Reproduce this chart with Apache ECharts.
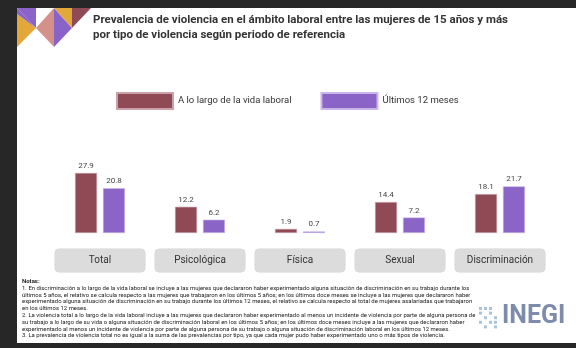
<!DOCTYPE html>
<html><head><meta charset="utf-8">
<script src="https://cdn.jsdelivr.net/npm/echarts@6/dist/echarts.min.js"></script>
<style>html,body{margin:0;padding:0;background:#fff}#c{width:576px;height:348px}</style>
</head><body><div id="c"></div>
<script>
const categories = ['Total', 'Psicológica', 'Física', 'Sexual', 'Discriminación'];
const seriesNames = ['A lo largo de la vida laboral', 'Últimos 12 meses'];
const vidaLaboral = [27.9, 12.2, 1.9, 14.4, 18.1];
const ultimos12 = [20.8, 6.2, 0.7, 7.2, 21.7];
const titleLines = ['Prevalencia de violencia en el ámbito laboral entre las mujeres de 15 años y más',
  'por tipo de violencia según periodo de referencia'];
const notesLines = [
 '1. En discriminación a lo largo de la vida laboral se incluye a las mujeres que declararon haber experimentado alguna situación de discriminación en su trabajo durante los',
 'últimos 5 años, el relativo se calcula respecto a las mujeres que trabajaron en los últimos 5 años; en los últimos doce meses se incluye a las mujeres que declararon haber',
 'experimentado alguna situación de discriminación en su trabajo durante los últimos 12 meses, el relativo se calcula respecto al total de mujeres asalariadas que trabajaron',
 'en los últimos 12 meses.',
 '2. La violencia total a lo largo de la vida laboral incluye a las mujeres que declararon haber experimentado al menos un incidente de violencia por parte de alguna persona de',
 'su trabajo a lo largo de su vida o alguna situación de discriminación laboral en los últimos 5 años; en los últimos doce meses incluye a las mujeres que declararon haber',
 'experimentado al menos un incidente de violencia por parte de alguna persona de su trabajo o alguna situación de discriminación laboral en los últimos 12 meses.',
 '3. La prevalencia de violencia total no es igual a la suma de las prevalencias por tipo, ya que cada mujer pudo haber experimentado uno o más tipos de violencia.'
];

const MAROON = '#8f4a55', PURPLE = '#8a64c6';
const chart = echarts.init(document.getElementById('c'), null, {renderer: 'canvas'});

const dots = [];
const dotPattern = [[0,0],[1,0],[2,0],[0,1],[2,1],[1,2],[3,2],[2,3],[3,3],[0,3],[1,4],[3,4]];
dotPattern.forEach(p => dots.push({type:'rect', shape:{x:479 + p[0]*5, y:307 + p[1]*4.6, width:3, height:3}, style:{fill:'#a9c3dc'}}));

const lbl = {show:true, position:'top', distance:3, fontSize:8, color:'#444', fontFamily:'Roboto'};

chart.setOption({
  animation: false,
  backgroundColor: '#fff',
  textStyle: {fontFamily: 'Roboto'},
  legend: {
    left: 116, top: 92, padding: 0, itemWidth: 56, itemHeight: 16, itemGap: 29,
    icon: 'rect',
    textStyle: {fontSize: 9.5, color: '#333', fontFamily: 'Roboto'},
    data: seriesNames
  },
  grid: {left: 50, right: 26, top: 168.5, height: 64.5, containLabel: false},
  xAxis: {
    type: 'category', data: categories,
    axisLine: {show: false}, axisTick: {show: false},
    axisLabel: {
      margin: 16, fontSize: 10, color: '#333', fontFamily: 'Roboto',
      backgroundColor: '#dcdcdc', borderRadius: 4, borderColor: '#d2d2d2', borderWidth: 0.5,
      width: 90, height: 23, lineHeight: 23, align: 'center'
    }
  },
  yAxis: {type: 'value', min: 0, max: 30, show: false, splitLine: {show: false}},
  series: [
    {name: seriesNames[0], type: 'bar', data: vidaLaboral, barWidth: 22, barGap: '27%',
     itemStyle: {color: MAROON, borderColor: '#caa3aa', borderWidth: 0.6}, label: lbl},
    {name: seriesNames[1], type: 'bar', data: ultimos12, barWidth: 22,
     itemStyle: {color: PURPLE, borderColor: '#c9b6ea', borderWidth: 0.6}, label: lbl}
  ],
  graphic: [
    {type:'rect', shape:{x:0, y:0, width:576, height:8}, style:{fill:'#272727'}},
    {type:'rect', shape:{x:0, y:0, width:17, height:348}, style:{fill:'#272727'}},
    {type:'rect', shape:{x:0, y:343, width:576, height:5}, style:{fill:'#272727'}},
    {type:'polygon', shape:{points:[[17,8],[36,8],[36,28]]}, style:{fill:'#8a63c9'}},
    {type:'polygon', shape:{points:[[17,14],[36,28],[17,47]]}, style:{fill:'#e3a83a'}},
    {type:'polygon', shape:{points:[[17,8],[36,28],[17,14]]}, style:{fill:'#8a63c9'}},
    {type:'polygon', shape:{points:[[36,28],[54,8],[54,47]]}, style:{fill:'#d4918a'}},
    {type:'polygon', shape:{points:[[54,8],[72,28],[54,47]]}, style:{fill:'#8a63c9'}},
    {type:'polygon', shape:{points:[[54,8],[72,8],[72,28]]}, style:{fill:'#e3a83a'}},
    {type:'polygon', shape:{points:[[72,8],[91,8],[72,28]]}, style:{fill:'#8e4a55'}},
    {type:'text', left: 93, top: 13, style:{text: titleLines.join('\n'), font:'bold 11.5px Roboto', fill:'#333', lineHeight: 15}},
    {type:'text', left: 22, top: 278, style:{text: 'Notas:', font:'bold 6px Roboto', fill:'#222'}},
    {type:'text', left: 22, top: 285, style:{text: notesLines.join('\n'), font:'5.95px Roboto', fill:'#222', lineHeight: 6.8}},
    ...dots,
    {type:'text', left: 502, top: 304, style:{text:'INEGI', font:'bold 25px Roboto', fill:'#7d8cab'}}
  ]
});
</script></body></html>
